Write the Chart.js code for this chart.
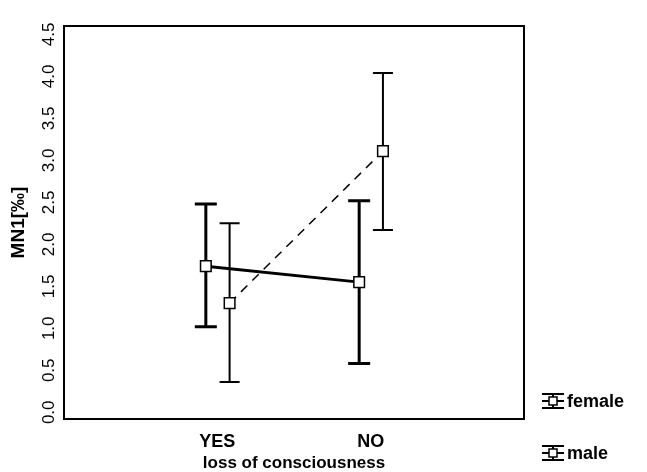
<!DOCTYPE html>
<html>
<head>
<meta charset="utf-8">
<script src="https://cdn.jsdelivr.net/npm/chart.js@4/dist/chart.umd.min.js"></script>
<style>
    html, body { margin: 0; padding: 0; background: #fff; }
    #wrap { width: 647px; height: 472px; }
</style>
</head>
<body>
<div id="wrap"><canvas id="canvas" width="647" height="472"></canvas></div>
<script>
Chart.defaults.color = '#000';
Chart.defaults.font.family = '"Liberation Sans", Arial, sans-serif';

const categories = ['YES', 'NO'];
const categoryPos = [1, 2];
const seriesNames = ['female', 'male'];

const femaleMean = [1.74, 1.55];
const femaleLower = [1.02, 0.58];
const femaleUpper = [2.48, 2.52];

const maleMean = [1.30, 3.11];
const maleLower = [0.36, 2.17];
const maleUpper = [2.25, 4.04];

const yTicks = [0.0, 0.5, 1.0, 1.5, 2.0, 2.5, 3.0, 3.5, 4.0, 4.5];

const series = [
    { name: seriesNames[0], mean: femaleMean, lower: femaleLower, upper: femaleUpper, shift: -0.075, width: 3, cap: 11, dash: [] },
    { name: seriesNames[1], mean: maleMean, lower: maleLower, upper: maleUpper, shift: 0.08, width: 2, cap: 10, dash: [9, 7] }
];

// error bars, frame, rotated y labels and the legend
const errorBarPlugin = {
    id: 'errorBars',
    beforeDatasetsDraw(chart) {
        const ctx = chart.ctx;
        const x = chart.scales.x;
        const y = chart.scales.y;
        ctx.save();
        ctx.strokeStyle = '#000';
        series.forEach(s => {
            ctx.lineWidth = s.width;
            categoryPos.forEach((pos, i) => {
                const px = x.getPixelForValue(pos + s.shift);
                const top = y.getPixelForValue(s.upper[i]);
                const bottom = y.getPixelForValue(s.lower[i]);
                ctx.beginPath();
                ctx.moveTo(px, top);
                ctx.lineTo(px, bottom);
                ctx.moveTo(px - s.cap, top);
                ctx.lineTo(px + s.cap, top);
                ctx.moveTo(px - s.cap, bottom);
                ctx.lineTo(px + s.cap, bottom);
                ctx.stroke();
            });
        });
        ctx.restore();
    },
    afterDraw(chart) {
        const ctx = chart.ctx;
        const area = chart.chartArea;
        const y = chart.scales.y;
        ctx.save();
        ctx.strokeStyle = '#000';
        ctx.lineWidth = 2;
        ctx.strokeRect(area.left, area.top, area.right - area.left, area.bottom - area.top);

        ctx.fillStyle = '#000';
        ctx.font = '17px "Liberation Sans", Arial, sans-serif';
        ctx.textAlign = 'center';
        ctx.textBaseline = 'middle';
        yTicks.forEach(v => {
            ctx.save();
            ctx.translate(area.left - 15, y.getPixelForValue(v));
            ctx.rotate(-Math.PI / 2);
            ctx.fillText(v.toFixed(1), 0, 0);
            ctx.restore();
        });

        ctx.textAlign = 'left';
        ctx.font = 'bold 18px "Liberation Sans", Arial, sans-serif';
        series.forEach((s, k) => {
            const lx = area.right + 29;
            const ly = area.bottom - 18 + k * 52;
            ctx.lineWidth = 2;
            ctx.beginPath();
            ctx.moveTo(lx - 11, ly - 7);
            ctx.lineTo(lx + 11, ly - 7);
            ctx.moveTo(lx - 11, ly + 7);
            ctx.lineTo(lx + 11, ly + 7);
            ctx.moveTo(lx, ly - 7);
            ctx.lineTo(lx, ly + 7);
            ctx.moveTo(lx - 11, ly);
            ctx.lineTo(lx + 11, ly);
            ctx.stroke();
            ctx.fillStyle = '#fff';
            ctx.fillRect(lx - 4, ly - 4, 8, 8);
            ctx.lineWidth = 1.5;
            ctx.strokeRect(lx - 4, ly - 4, 8, 8);
            ctx.fillStyle = '#000';
            ctx.fillText(s.name, lx + 14, ly + 1);
        });
        ctx.restore();
    }
};

const config = {
    type: 'line',
    data: {
        datasets: series.map(s => ({
            label: s.name,
            data: categoryPos.map((pos, i) => ({ x: pos + s.shift, y: s.mean[i] })),
            borderColor: '#000',
            borderWidth: s.width === 3 ? 3 : 1.5,
            borderDash: s.dash,
            pointStyle: 'rect',
            pointRadius: 7.5,
            pointBorderWidth: 1.5,
            pointBorderColor: '#000',
            pointBackgroundColor: '#fff',
            tension: 0
        }))
    },
    options: {
        responsive: false,
        animation: false,
        layout: { padding: { left: 0, top: 26, right: 123, bottom: 0 } },
        plugins: {
            legend: { display: false },
            tooltip: { enabled: false }
        },
        scales: {
            x: {
                type: 'linear',
                min: 0,
                max: 3,
                afterBuildTicks: scale => {
                    scale.ticks = categoryPos.map(v => ({ value: v }));
                },
                afterFit: scale => { scale.height = 53; },
                grid: { display: false, drawTicks: false },
                border: { display: false },
                ticks: {
                    autoSkip: false,
                    maxRotation: 0,
                    padding: 12,
                    font: { size: 18, weight: 'bold' },
                    callback: value => categories[categoryPos.indexOf(value)] ?? ''
                },
                title: {
                    display: true,
                    text: 'loss of consciousness',
                    font: { size: 17, weight: 'bold' },
                    padding: { top: 0, bottom: -2 }
                }
            },
            y: {
                min: -0.08,
                max: 4.6,
                afterBuildTicks: scale => {
                    scale.ticks = yTicks.map(v => ({ value: v }));
                },
                afterFit: scale => { scale.width = 64; },
                grid: { display: false, drawTicks: false },
                border: { display: false },
                ticks: { display: false },
                title: {
                    display: true,
                    text: 'MN1[‰]',
                    font: { size: 19, weight: 'bold' },
                    padding: { top: 7, bottom: 0 }
                }
            }
        }
    },
    plugins: [errorBarPlugin]
};

const ctx = document.getElementById('canvas');
const chart = new Chart(ctx, config);
</script>
</body>
</html>
